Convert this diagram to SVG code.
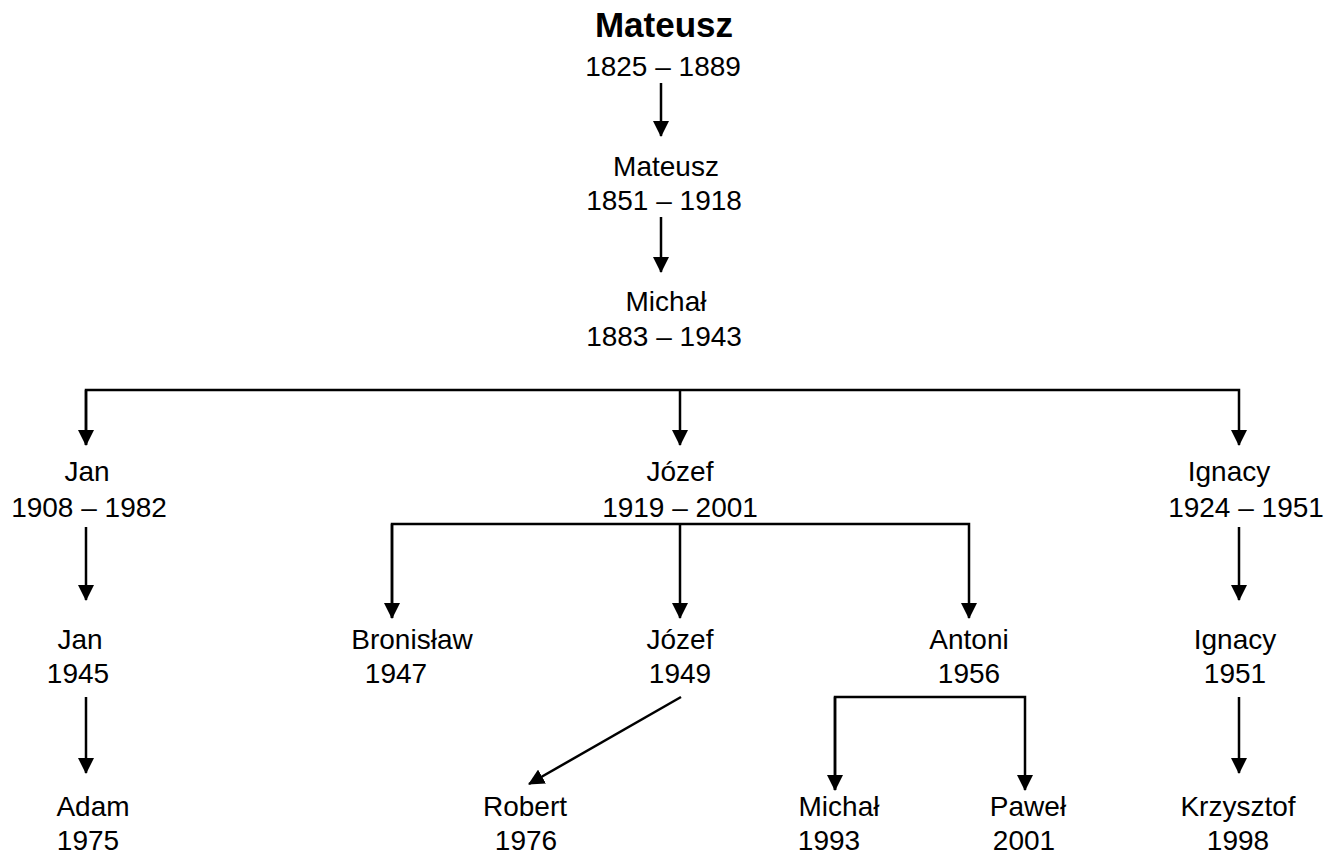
<svg xmlns="http://www.w3.org/2000/svg" width="1328" height="855" viewBox="0 0 1328 855">
<style>
text{font-family:"Liberation Sans",Arial,sans-serif;font-size:28px;fill:#000;text-anchor:middle}
.b{font-weight:bold;font-size:35px}
.c{fill:none;stroke:#000;stroke-width:2.5}
</style>
<defs>
<marker id="ah" markerWidth="16" markerHeight="16" viewBox="0 0 16 16" refX="15" refY="8" orient="auto" markerUnits="userSpaceOnUse">
<path d="M0,0 L16,8 L0,16 Z" fill="#000"/>
</marker>
</defs>
<rect width="1328" height="855" fill="#fff"/>
<g id="connectors">
<path class="c" d="M661,83 V136" marker-end="url(#ah)"/>
<path class="c" d="M661,217 V272" marker-end="url(#ah)"/>
<path class="c" d="M86,445 V390 H1239 V445" marker-end="url(#ah)"/>
<path class="c" d="M86,390 V445" marker-end="url(#ah)"/>
<path class="c" d="M680,390 V445" marker-end="url(#ah)"/>
<path class="c" d="M86,527 V600" marker-end="url(#ah)"/>
<path class="c" d="M1239,527 V600" marker-end="url(#ah)"/>
<path class="c" d="M392,618 V524 H969 V618" marker-end="url(#ah)"/>
<path class="c" d="M392,524 V618" marker-end="url(#ah)"/>
<path class="c" d="M680,524 V618" marker-end="url(#ah)"/>
<path class="c" d="M86,697 V773" marker-end="url(#ah)"/>
<path class="c" d="M1239,697 V773" marker-end="url(#ah)"/>
<path class="c" d="M681,697 L529,784" marker-end="url(#ah)"/>
<path class="c" d="M835,790 V697 H1025 V790" marker-end="url(#ah)"/>
<path class="c" d="M835,697 V790" marker-end="url(#ah)"/>
</g>
<g id="n-mateusz1"><text class="b" x="664" y="37">Mateusz</text><text x="663" y="76">1825 – 1889</text></g>
<g id="n-mateusz2"><text x="666" y="176">Mateusz</text><text x="664" y="210">1851 – 1918</text></g>
<g id="n-michal1"><text x="666" y="311">Michał</text><text x="664" y="346">1883 – 1943</text></g>
<g id="n-jan1"><text x="87" y="481">Jan</text><text x="89" y="517">1908 – 1982</text></g>
<g id="n-jozef1"><text x="680" y="481">Józef</text><text x="680" y="517">1919 – 2001</text></g>
<g id="n-ignacy1"><text x="1229" y="481">Ignacy</text><text x="1246" y="517">1924 – 1951</text></g>
<g id="n-jan2"><text x="80" y="649">Jan</text><text x="78" y="683">1945</text></g>
<g id="n-bronislaw"><text x="412" y="649">Bronisław</text><text x="396" y="683">1947</text></g>
<g id="n-jozef2"><text x="680" y="649">Józef</text><text x="680" y="683">1949</text></g>
<g id="n-antoni"><text x="969" y="649">Antoni</text><text x="969" y="683">1956</text></g>
<g id="n-ignacy2"><text x="1235" y="649">Ignacy</text><text x="1235" y="683">1951</text></g>
<g id="n-adam"><text x="93" y="816">Adam</text><text x="88" y="850">1975</text></g>
<g id="n-robert"><text x="525" y="816">Robert</text><text x="526" y="850">1976</text></g>
<g id="n-michal2"><text x="839" y="816">Michał</text><text x="829" y="850">1993</text></g>
<g id="n-pawel"><text x="1028" y="816">Paweł</text><text x="1024" y="850">2001</text></g>
<g id="n-krzysztof"><text x="1238" y="816">Krzysztof</text><text x="1238" y="850">1998</text></g>
</svg>
